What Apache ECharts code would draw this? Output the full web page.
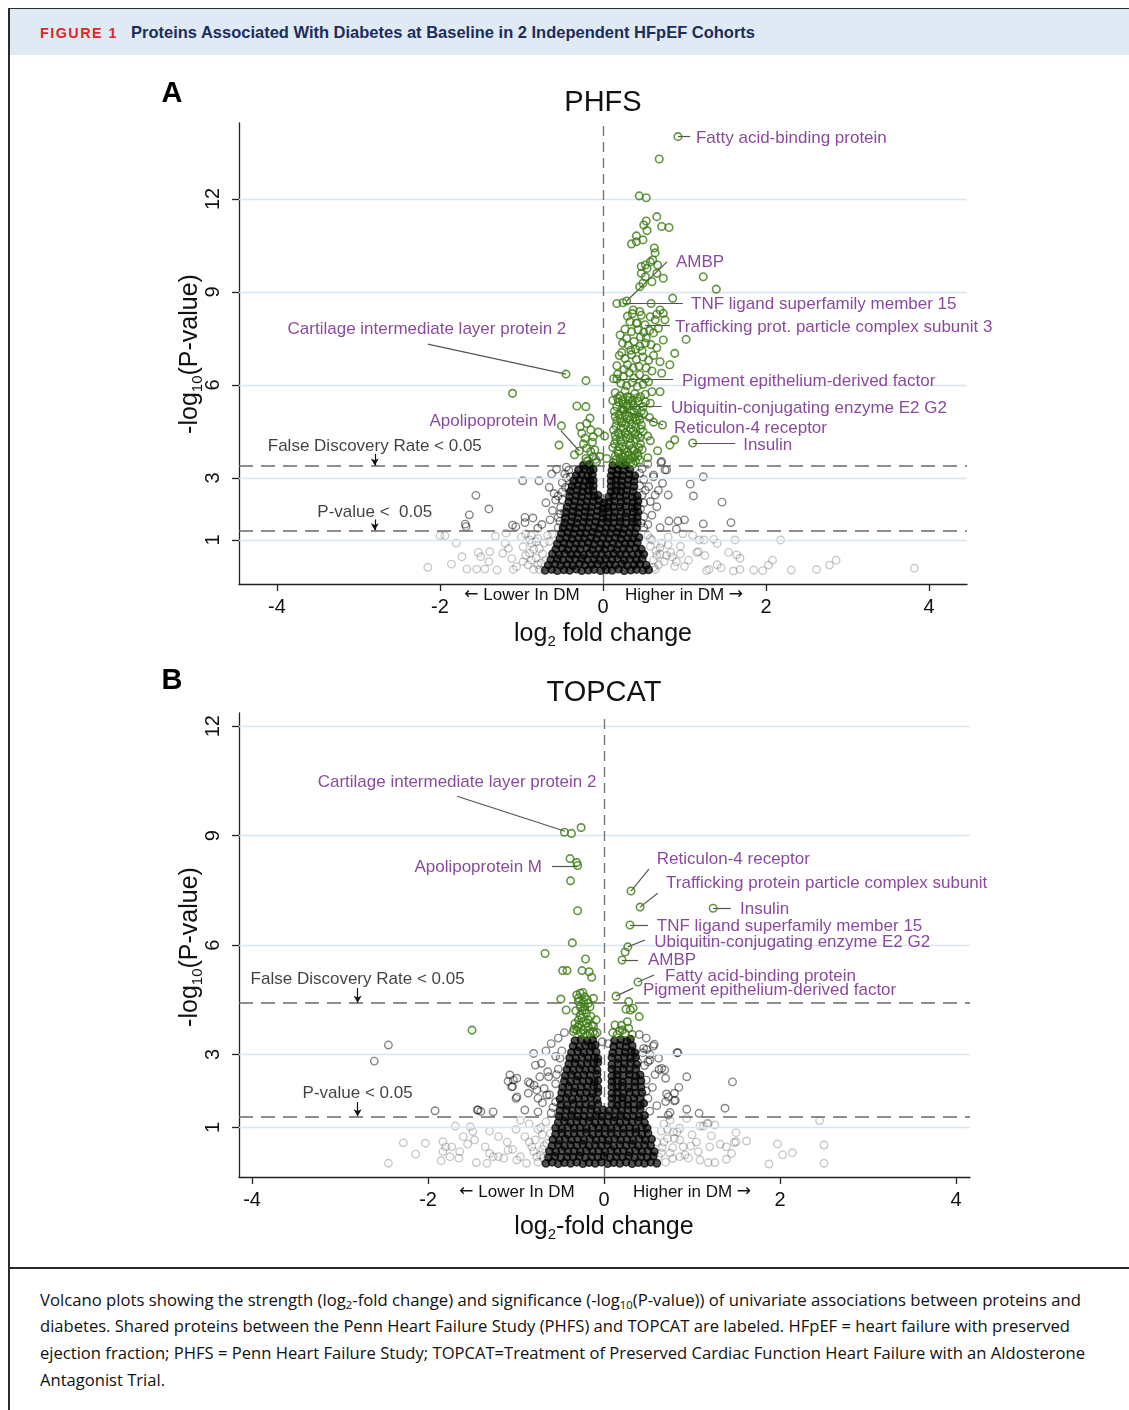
<!DOCTYPE html>
<html><head><meta charset="utf-8">
<script src="https://cdn.jsdelivr.net/npm/echarts@6/dist/echarts.min.js"></script>
<style>
html,body{margin:0;padding:0;background:#fff;width:1129px;height:1410px;overflow:hidden;}
#chart{position:absolute;left:0;top:0;width:1129px;height:1410px;}
.abs{position:absolute;}
.fit{white-space:nowrap;transform-origin:0 50%;display:inline-block;position:absolute;}
.cap{font-family:"Open Sans","Noto Sans",sans-serif;font-size:17px;line-height:24px;color:#111;}
.cap sub{font-size:11.5px;line-height:0;vertical-align:-3px;}
</style></head><body>
<div class="abs" style="left:9px;top:9px;width:1120px;height:46px;background:#dfeaf5"></div>
<div class="abs" style="left:8px;top:8px;width:1121px;height:1.3px;background:#2b2b2b"></div>
<div class="abs" style="left:8px;top:8px;width:1.5px;height:1402px;background:#2b2b2b"></div>
<div class="abs" style="left:8px;top:1267px;width:1121px;height:1.5px;background:#2b2b2b"></div>
<div class="fit" data-w="78" style="left:40px;top:23px;font:bold 15px 'Liberation Sans',Arial,sans-serif;line-height:20px;letter-spacing:1.5px;color:#e3262c">FIGURE 1</div>
<div class="fit" data-w="624" style="left:131px;top:23px;font:bold 17px 'Liberation Sans',Arial,sans-serif;line-height:20px;color:#1c2d5c">Proteins Associated With Diabetes at Baseline in 2 Independent HFpEF Cohorts</div>
<div class="fit cap" data-w="1041" style="left:40px;top:1288px">Volcano plots showing the strength (log<sub>2</sub>-fold change) and significance (-log<sub>10</sub>(P-value)) of univariate associations between proteins and</div>
<div class="fit cap" data-w="1030" style="left:40px;top:1314px">diabetes. Shared proteins between the Penn Heart Failure Study (PHFS) and TOPCAT are labeled. HFpEF = heart failure with preserved</div>
<div class="fit cap" data-w="1045" style="left:40px;top:1341px">ejection fraction; PHFS = Penn Heart Failure Study; TOPCAT=Treatment of Preserved Cardiac Function Heart Failure with an Aldosterone</div>
<div class="fit cap" data-w="125" style="left:40px;top:1368px">Antagonist Trial.</div>
<div id="chart"></div>
<script>
// ---------------- DATA ----------------
const xTicks = [-4, -2, 0, 2, 4];
const yTicks = [1, 3, 6, 9, 12];
const phfsFdr = 3.39, topcatFdr = 4.41, pLine = 1.3;

// PHFS significant (FDR) proteins
const phfsGreen = [
[-0.454,6.35],[-0.209,6.14],[-1.11,5.73],[-0.32,5.32],[-0.21,5.3],[-0.51,4.68],[-0.28,4.66],[-0.16,4.93],[-0.2,4.76],[-0.54,4.06],
[-0.26,4.44],[-0.22,4.28],[-0.12,4.33],[-0.15,4.55],[0.02,4.35],[-0.29,3.87],[-0.2,3.96],[-0.15,3.85],[-0.1,3.9],[-0.04,3.69],
[0.045,3.63],[-0.21,3.63],[-0.12,3.69],[-0.35,3.75],[-0.18,3.55],[-0.08,3.52],[-0.24,4.1],[-0.13,4.15],[-0.06,4.48],
[0.92,14.01],[0.69,13.29],[0.445,12.1],[0.53,12.04],[0.66,11.43],[0.53,11.29],[0.5,11.16],[0.54,10.98],[0.72,11.11],[0.81,11.08],
[0.41,10.81],[0.35,10.55],[0.41,10.62],[0.49,10.68],[0.63,10.42],[0.64,10.26],[0.61,10.03],[0.58,9.97],[0.52,9.87],[0.47,9.82],
[0.54,9.76],[0.67,9.87],[0.47,9.6],[0.52,9.49],[0.66,9.6],[0.74,9.44],[0.49,9.28],[0.6,9.33],[0.45,9.17],[1.23,9.49],[1.39,9.09],
[0.17,8.63],[0.29,8.71],[0.245,8.65],[0.59,8.63],[0.855,8.8],[0.37,8.42],[0.45,8.37],[0.7,8.42],[0.74,8.31],[0.76,8.1],[0.33,8.04],
[0.41,7.99],[0.515,7.94],[0.64,8.1],[0.21,7.61],[1.02,7.47],[0.68,7.83],[0.74,7.45],[0.88,7.02],[0.82,6.65],[0.7,6.75],[0.7,5.78],
[0.6,5.78],[0.72,6.38],[0.52,5.46],[0.58,5.41],[0.73,4.71],[0.88,4.23],[0.82,4.06],[0.67,3.88],[1.1,4.13],[0.17,6.19],[0.31,5.32],[0.245,5.19],
[0.3,8.22],[0.47,8.25],[0.58,8.2],[0.66,8.28],
[0.27,7.8],[0.35,7.72],[0.43,7.78],[0.5,7.7],[0.57,7.76],[0.62,7.68],[0.46,7.55],
[0.24,7.35],[0.31,7.28],[0.38,7.4],[0.45,7.25],[0.52,7.35],[0.59,7.3],[0.66,7.2],[0.34,7.12],[0.48,7.1],
[0.2,6.95],[0.27,6.85],[0.35,6.98],[0.41,6.82],[0.49,6.9],[0.56,6.8],[0.62,6.95],[0.3,6.65],[0.44,6.6],[0.53,6.55],[0.6,6.45],
[0.18,6.35],[0.25,6.28],[0.32,6.4],[0.38,6.22],[0.45,6.33],[0.52,6.2],[0.22,6.05],[0.29,5.98],[0.36,6.08],[0.42,5.95],[0.49,6.02],[0.56,6.1],
[0.15,5.75],[0.21,5.65],[0.27,5.8],[0.33,5.6],[0.39,5.72],[0.46,5.62],[0.52,5.7],[0.19,5.45],[0.25,5.38],[0.31,5.5],[0.37,5.35],[0.43,5.48],[0.49,5.3],
[0.14,5.15],[0.2,5.05],[0.26,5.2],[0.32,5.0],[0.38,5.12],[0.44,4.98],[0.5,5.08],[0.57,4.95],[0.17,4.85],[0.23,4.78],[0.29,4.9],[0.35,4.72],[0.41,4.85],[0.47,4.7],[0.62,4.8],
[0.13,4.55],[0.19,4.45],[0.25,4.6],[0.31,4.4],[0.37,4.52],[0.43,4.38],[0.49,4.5],[0.55,4.35],[0.16,4.25],[0.22,4.18],[0.28,4.3],[0.34,4.12],[0.4,4.25],[0.46,4.1],[0.58,4.2],
[0.12,3.98],[0.18,3.88],[0.24,4.02],[0.3,3.85],[0.36,3.95],[0.42,3.82],[0.48,3.92],[0.15,3.7],[0.21,3.62],[0.27,3.75],[0.33,3.6],[0.39,3.72],[0.45,3.58],[0.13,3.5],[0.25,3.48],[0.37,3.45],[0.55,3.65],
[0.17,6.62],[0.13,6.2],[0.12,5.5],
[0.16,3.6],[0.22,3.52],[0.28,3.58],[0.34,3.5],[0.4,3.55],[0.19,3.78],[0.25,3.68],[0.31,3.72],[0.37,3.65],[0.43,3.7],
[0.14,4.1],[0.2,4.0],[0.26,3.92],[0.32,4.05],[0.38,3.88],[0.44,3.98],[0.15,4.38],[0.21,4.32],[0.27,4.45],[0.33,4.28],[0.39,4.4],[0.45,4.3],
[0.16,4.68],[0.22,4.62],[0.28,4.72],[0.34,4.58],[0.4,4.65],[0.46,4.58],[0.15,4.98],[0.21,4.92],[0.27,5.02],[0.33,4.88],[0.39,4.95],[0.45,4.88],
[0.17,5.3],[0.23,5.22],[0.29,5.32],[0.35,5.18],[0.41,5.25],[0.47,5.15],[0.18,5.58],[0.24,5.52],[0.3,5.62],[0.36,5.5],[0.42,5.58],
[0.26,6.5],[0.37,6.55],[0.23,7.05],[0.4,7.15],[0.29,7.5],[0.53,7.52],[0.36,8.3],[0.42,8.0]
];

// PHFS non-significant proteins, dense centre of the volcano
const phfsCore = [
[-0.71,0.02],[-0.63,0.05],[-0.56,0.01],[-0.48,0.04],[-0.41,0.02],[-0.33,0.06],[-0.26,0.01],[-0.18,0.03],[-0.11,0.05],[-0.03,0.01],[0.04,0.04],[0.11,0.02],[0.19,0.06],[0.26,0.01],[0.34,0.03],[0.41,0.05],[0.49,0.02],[0.56,0.04],
[-0.67,0.19],[-0.59,0.22],[-0.52,0.18],[-0.44,0.21],[-0.37,0.17],[-0.29,0.23],[-0.22,0.19],[-0.14,0.2],[-0.07,0.22],[0.01,0.18],[0.08,0.21],[0.15,0.19],[0.23,0.23],[0.3,0.18],[0.38,0.2],[0.45,0.22],[0.53,0.19],
[-0.64,0.36],[-0.56,0.39],[-0.49,0.35],[-0.41,0.38],[-0.34,0.37],[-0.26,0.4],[-0.19,0.36],[-0.11,0.38],[-0.04,0.35],[0.03,0.39],[0.11,0.37],[0.18,0.4],[0.26,0.35],[0.33,0.38],[0.41,0.36],[0.48,0.39],
[-0.62,0.55],[-0.54,0.52],[-0.47,0.56],[-0.39,0.53],[-0.32,0.55],[-0.24,0.51],[-0.17,0.56],[-0.09,0.53],[-0.02,0.55],[0.06,0.52],[0.13,0.56],[0.21,0.53],[0.28,0.55],[0.36,0.52],[0.43,0.56],[0.5,0.54],
[-0.58,0.7],[-0.5,0.73],[-0.43,0.69],[-0.35,0.72],[-0.28,0.7],[-0.2,0.74],[-0.13,0.69],[-0.05,0.72],[0.02,0.7],[0.1,0.73],[0.17,0.69],[0.25,0.72],[0.32,0.71],[0.4,0.74],[0.47,0.7],
[-0.56,0.87],[-0.48,0.9],[-0.41,0.86],[-0.33,0.89],[-0.26,0.88],[-0.18,0.91],[-0.11,0.86],[-0.03,0.89],[0.04,0.87],[0.12,0.9],[0.19,0.86],[0.27,0.89],[0.34,0.88],[0.42,0.91],
[-0.53,1.04],[-0.45,1.07],[-0.38,1.03],[-0.3,1.06],[-0.23,1.05],[-0.15,1.08],[-0.08,1.03],[0,1.06],[0.07,1.04],[0.15,1.07],[0.22,1.03],[0.3,1.06],[0.37,1.05],[0.44,1.08],
[-0.51,1.21],[-0.43,1.24],[-0.36,1.2],[-0.28,1.23],[-0.21,1.22],[-0.13,1.25],[-0.06,1.2],[0.02,1.23],[0.09,1.21],[0.17,1.24],[0.24,1.2],[0.32,1.23],[0.39,1.22],
[-0.49,1.38],[-0.41,1.41],[-0.34,1.37],[-0.26,1.4],[-0.19,1.39],[-0.11,1.42],[-0.04,1.37],[0.04,1.4],[0.11,1.38],[0.19,1.41],[0.26,1.37],[0.34,1.4],[0.41,1.39],
[-0.47,1.55],[-0.39,1.58],[-0.32,1.54],[-0.24,1.57],[-0.17,1.56],[-0.09,1.59],[-0.02,1.54],[0.06,1.57],[0.13,1.55],[0.21,1.58],[0.28,1.54],[0.36,1.57],[0.42,1.56],
[-0.46,1.72],[-0.38,1.75],[-0.31,1.71],[-0.23,1.74],[-0.16,1.73],[-0.08,1.76],[0.0,1.71],[0.06,1.71],[0.13,1.74],[0.21,1.72],[0.28,1.75],[0.36,1.71],[0.42,1.74],
[-0.45,1.89],[-0.37,1.92],[-0.3,1.88],[-0.22,1.91],[-0.15,1.9],[-0.07,1.93],[0.0,1.88],[0.07,1.91],[0.14,1.89],[0.22,1.92],[0.29,1.88],[0.37,1.91],[0.43,1.9],
[-0.44,2.06],[-0.36,2.09],[-0.29,2.05],[-0.21,2.08],[-0.14,2.07],[-0.06,2.1],[0.0,2.02],[0.06,2.05],[0.13,2.08],[0.21,2.06],[0.28,2.09],[0.36,2.05],[0.42,2.08],
[-0.42,2.23],[-0.35,2.26],[-0.27,2.22],[-0.2,2.25],[-0.12,2.24],[-0.05,2.27],[0.01,2.19],[0.07,2.22],[0.14,2.25],[0.22,2.23],[0.29,2.26],[0.37,2.22],[0.43,2.25],
[-0.41,2.4],[-0.33,2.43],[-0.26,2.39],[-0.18,2.42],[-0.11,2.41],[-0.06,2.44],[0.07,2.39],[0.13,2.42],[0.21,2.4],[0.28,2.43],[0.36,2.39],[0.42,2.42],
[-0.4,2.57],[-0.32,2.6],[-0.25,2.56],[-0.18,2.59],[-0.12,2.58],[0.1,2.56],[0.16,2.59],[0.22,2.57],[0.29,2.6],[0.37,2.56],
[-0.38,2.74],[-0.31,2.77],[-0.24,2.73],[-0.17,2.76],[-0.12,2.75],[0.1,2.73],[0.16,2.76],[0.23,2.74],[0.3,2.77],[0.38,2.73],
[-0.36,2.91],[-0.29,2.94],[-0.22,2.9],[-0.16,2.93],[-0.12,2.92],[0.1,2.9],[0.16,2.93],[0.23,2.91],[0.31,2.94],[0.38,2.9],
[-0.33,3.08],[-0.26,3.11],[-0.19,3.07],[-0.13,3.1],[0.1,3.07],[0.17,3.1],[0.24,3.08],[0.32,3.11],[0.39,3.07],
[-0.3,3.25],[-0.23,3.28],[-0.16,3.24],[-0.12,3.27],[0.11,3.24],[0.18,3.27],[0.25,3.25],[0.33,3.28],
[-0.24,3.41],[-0.17,3.44],[0.12,3.4],[0.2,3.43],[0.28,3.41]
];

// PHFS non-significant proteins, scattered outside the centre
const phfsGray = [
[-0.985,2.91],[-0.785,2.91],[-0.63,3.13],[-0.47,3.13],[-0.4,3.04],[-1.56,2.44],[-1.4,2.0],[-1.64,1.81],[-1.69,1.51],[-1.68,1.43],
[-1.11,1.48],[-0.957,1.73],[-0.86,1.71],[-0.957,1.56],[-1.07,1.43],[-0.65,1.65],[-0.55,1.73],[-0.6,2.5],[-0.55,2.42],[-0.58,2.29],
[-0.42,2.69],[-0.52,2.05],[-0.62,1.95],[-0.5,2.85],[-0.7,2.2],[-0.48,1.45],[-0.75,1.5],[-0.8,1.38],[-0.66,2.7],[-0.57,3.28],
[-0.45,3.35],[-0.2,3.55],[-0.09,3.6],[-0.53,1.6],[-0.5,2.55],[-0.47,1.9],[-0.55,1.4],[-0.45,3.0],
[-0.5,2.3],[-0.46,2.7],[-0.42,3.25],[-0.52,1.85],
[-2.0,1.14],[-1.94,1.14],[-1.19,1.22],[-1.86,0.22],[-1.73,0.46],[-1.67,0.06],[-1.55,0.06],[-1.45,0.06],[-1.53,0.6],[-1.39,0.62],
[-1.5,0.46],[-1.4,0.3],[-1.3,0.03],[-1.2,0.89],[-1.16,0.73],[-1.23,0.57],[-1.06,0.14],[-0.98,0.3],[-0.98,0.78],[-0.9,0.57],
[-0.875,0.89],[-1.12,0.4],[-1.0,1.1],[-0.92,0.2],[-0.85,0.05],[-0.82,0.42],[-0.78,0.72],[-0.8,1.05],[-0.76,0.25],[-1.1,0.05],
[-2.15,0.12],[-1.8,0.9],[-1.32,1.12],[-0.95,1.2],[-0.88,1.15],[-0.74,0.55],[-0.72,0.9],[-0.68,1.15],[-0.78,0.05],[-0.7,0.35],
[-0.95,0.5],[-0.88,0.35],[-0.85,0.7],[-0.82,0.95],[-0.9,1.0],[-0.8,0.2],[-0.66,0.95],[-0.62,1.2],
[1.23,3.04],[1.07,2.8],[1.11,2.42],[1.46,2.22],[1.57,1.56],[1.23,1.52],[0.81,1.61],[0.92,1.61],[0.9,1.35],[0.73,2.83],
[0.8,2.45],[0.66,2.07],[0.58,2.24],[0.76,3.26],[0.71,3.5],[0.55,3.45],[0.62,3.1],[0.5,2.95],[0.52,2.6],[0.6,1.8],
[0.55,1.5],[0.7,1.4],[0.48,3.3],[0.68,2.6],[1.0,1.65],[0.5,2.2],[0.72,3.53],[0.78,3.26],[0.62,3.04],[0.56,2.72],[0.64,2.45],
[0.5,1.75],[0.48,2.45],[0.5,1.4],[0.45,3.15],[0.46,2.0],[0.45,2.75],[0.47,1.55],
[3.82,0.09],[2.86,0.35],[2.78,0.19],[2.62,0.05],[2.31,0.03],[2.18,1.0],[2.08,0.35],[2.03,0.19],[1.96,0.01],[1.85,0.03],
[1.68,0.05],[1.6,0.0],[1.68,0.41],[1.64,0.52],[1.54,0.6],[1.62,1.0],[1.36,1.02],[1.24,1.0],[1.18,1.0],[1.4,0.2],
[1.3,0.05],[1.15,0.6],[1.05,0.35],[0.95,0.8],[0.88,0.15],[0.8,1.1],[0.78,0.5],[0.72,0.9],[0.68,0.2],[0.65,0.65],
[1.1,1.15],[0.98,1.2],[1.25,0.5],[0.85,0.45],[1.45,0.1],[0.6,1.0],[0.62,0.35],[1.17,0.62],[1.4,0.89],[1.27,0.01],
[0.64,0.05],[0.58,0.8],[0.55,1.15],[0.7,0.55],[0.62,0.12],[0.66,0.5],[0.7,0.75],[0.75,0.3],[0.8,0.85],[0.83,0.6],
[0.58,1.05],[0.9,0.3],[0.95,0.55],[1.0,0.15]
];

// TOPCAT significant (FDR) proteins
const topcatGreen = [
[-0.45,9.09],[-0.37,9.06],[-0.26,9.22],[-0.386,8.37],[-0.31,8.26],[-0.3,8.18],[-0.38,7.76],[-0.3,6.94],[-0.36,6.06],[-0.67,5.77],
[-0.21,5.62],[-0.47,5.3],[-0.42,5.3],[-0.25,5.3],[-0.17,5.27],[-0.14,5.12],[-0.49,4.52],[-0.43,4.22],[-0.31,4.63],[-0.27,4.68],
[-0.22,4.58],[-0.235,4.45],[-0.29,4.45],[-0.27,4.31],[-0.22,4.31],[-0.16,4.31],[-0.12,4.54],[-0.2,4.13],[-0.27,4.08],[-0.29,3.95],
[-0.33,3.85],[-0.235,3.9],[-0.18,3.95],[-0.14,3.81],[-0.09,3.95],[-0.35,3.63],[-0.31,3.67],[-0.235,3.67],[-0.18,3.76],[-0.12,3.63],
[-0.2,3.53],[-1.5,3.67],[-0.25,4.2],[-0.18,4.4],[-0.3,3.75],[-0.22,3.58],
[-0.26,3.6],[-0.16,3.58],[-0.28,3.82],[-0.2,3.86],[-0.12,3.78],[-0.25,4.0],[-0.15,4.05],[-0.32,4.2],[-0.22,4.22],[-0.29,4.55],
[-0.19,4.5],[-0.24,4.7],[-0.34,3.7],[-0.08,3.6],
[0.307,7.48],[0.41,7.04],[1.24,7.01],[0.295,6.55],[0.27,5.95],[0.24,5.81],[0.205,5.59],[0.386,4.99],[0.136,4.6],[0.28,4.45],
[0.25,4.24],[0.33,4.27],[0.4,4.04],[0.265,3.9],[0.125,3.81],[0.21,3.67],[0.28,3.72],[0.3,4.22],[0.2,3.8],[0.15,3.55],
[0.1,3.6],[0.24,3.58],[0.32,3.55],[0.18,3.65]
];

// TOPCAT non-significant proteins, dense centre of the volcano
const topcatCore = [
[-0.66,0.02],[-0.59,0.05],[-0.52,0.01],[-0.45,0.04],[-0.38,0.02],[-0.31,0.05],[-0.24,0.01],[-0.17,0.04],[-0.1,0.02],[-0.03,0.05],[0.04,0.01],[0.11,0.04],[0.18,0.02],[0.25,0.05],[0.32,0.01],[0.39,0.04],[0.46,0.02],[0.53,0.05],[0.6,0.02],
[-0.63,0.18],[-0.56,0.21],[-0.49,0.17],[-0.42,0.2],[-0.35,0.19],[-0.28,0.22],[-0.21,0.17],[-0.14,0.2],[-0.07,0.18],[0,0.21],[0.07,0.17],[0.14,0.2],[0.21,0.19],[0.28,0.22],[0.35,0.17],[0.42,0.2],[0.49,0.18],[0.56,0.21],
[-0.62,0.35],[-0.55,0.33],[-0.48,0.37],[-0.41,0.34],[-0.34,0.36],[-0.27,0.33],[-0.2,0.37],[-0.13,0.34],[-0.06,0.36],[0.01,0.33],[0.08,0.37],[0.15,0.34],[0.22,0.36],[0.29,0.33],[0.36,0.37],[0.43,0.34],[0.5,0.36],[0.57,0.34],
[-0.59,0.5],[-0.52,0.53],[-0.45,0.49],[-0.38,0.52],[-0.31,0.51],[-0.24,0.54],[-0.17,0.49],[-0.1,0.52],[-0.03,0.5],[0.04,0.53],[0.11,0.49],[0.18,0.52],[0.25,0.51],[0.32,0.54],[0.39,0.49],[0.46,0.52],[0.53,0.5],
[-0.58,0.67],[-0.51,0.65],[-0.44,0.69],[-0.37,0.66],[-0.3,0.68],[-0.23,0.65],[-0.16,0.69],[-0.09,0.66],[-0.02,0.68],[0.05,0.65],[0.12,0.69],[0.19,0.66],[0.26,0.68],[0.33,0.65],[0.4,0.69],[0.47,0.66],[0.54,0.68],
[-0.55,0.82],[-0.48,0.85],[-0.41,0.81],[-0.34,0.84],[-0.27,0.83],[-0.2,0.86],[-0.13,0.81],[-0.06,0.84],[0.01,0.82],[0.08,0.85],[0.15,0.81],[0.22,0.84],[0.29,0.83],[0.36,0.86],[0.43,0.81],[0.5,0.84],
[-0.55,0.99],[-0.48,0.97],[-0.41,1.01],[-0.34,0.98],[-0.27,1.0],[-0.2,0.97],[-0.13,1.01],[-0.06,0.98],[0.01,1.0],[0.08,0.97],[0.15,1.01],[0.22,0.98],[0.29,1.0],[0.36,0.97],[0.43,1.01],[0.49,0.98],
[-0.52,1.14],[-0.45,1.17],[-0.38,1.13],[-0.31,1.16],[-0.24,1.15],[-0.17,1.18],[-0.1,1.13],[-0.03,1.16],[0.04,1.14],[0.11,1.17],[0.18,1.13],[0.25,1.16],[0.32,1.15],[0.39,1.18],[0.46,1.13],
[-0.51,1.31],[-0.44,1.29],[-0.37,1.33],[-0.3,1.3],[-0.23,1.32],[-0.16,1.29],[-0.09,1.33],[-0.02,1.3],[0.05,1.32],[0.12,1.29],[0.19,1.33],[0.26,1.3],[0.33,1.32],[0.4,1.29],[0.46,1.33],
[-0.5,1.46],[-0.43,1.49],[-0.36,1.45],[-0.29,1.48],[-0.22,1.47],[-0.15,1.5],[-0.08,1.45],[-0.01,1.48],[0.06,1.46],[0.13,1.49],[0.2,1.45],[0.27,1.48],[0.34,1.47],[0.41,1.5],
[-0.49,1.63],[-0.42,1.61],[-0.35,1.65],[-0.28,1.62],[-0.21,1.64],[-0.14,1.61],[-0.07,1.65],[0.09,1.64],[0.15,1.61],[0.21,1.65],[0.27,1.62],[0.34,1.64],[0.41,1.61],[0.45,1.66],
[-0.5,1.78],[-0.43,1.81],[-0.36,1.77],[-0.29,1.8],[-0.22,1.79],[-0.15,1.82],[-0.08,1.77],[0.09,1.8],[0.15,1.78],[0.21,1.81],[0.27,1.77],[0.34,1.8],[0.41,1.79],
[-0.48,1.95],[-0.41,1.93],[-0.34,1.97],[-0.27,1.94],[-0.2,1.96],[-0.13,1.93],[-0.07,1.97],[0.09,1.94],[0.15,1.96],[0.22,1.93],[0.29,1.97],[0.36,1.94],[0.43,1.96],
[-0.47,2.1],[-0.4,2.13],[-0.33,2.09],[-0.26,2.12],[-0.19,2.11],[-0.12,2.14],[-0.07,2.09],[0.09,2.12],[0.15,2.1],[0.21,2.13],[0.28,2.09],[0.35,2.12],[0.42,2.11],
[-0.45,2.27],[-0.38,2.25],[-0.31,2.29],[-0.24,2.26],[-0.17,2.28],[-0.11,2.25],[-0.07,2.29],[0.09,2.26],[0.15,2.28],[0.21,2.25],[0.28,2.29],[0.35,2.26],[0.42,2.28],
[-0.44,2.42],[-0.37,2.45],[-0.3,2.41],[-0.23,2.44],[-0.16,2.43],[-0.08,2.46],[0.09,2.41],[0.15,2.44],[0.22,2.42],[0.29,2.45],[0.36,2.41],[0.41,2.44],
[-0.42,2.59],[-0.35,2.57],[-0.28,2.61],[-0.21,2.58],[-0.14,2.6],[-0.08,2.57],[0.09,2.6],[0.15,2.57],[0.22,2.61],[0.29,2.58],[0.36,2.6],
[-0.4,2.74],[-0.33,2.77],[-0.26,2.73],[-0.19,2.76],[-0.12,2.75],[-0.07,2.78],[0.09,2.73],[0.16,2.76],[0.23,2.74],[0.3,2.77],[0.37,2.73],
[-0.39,2.91],[-0.32,2.89],[-0.25,2.93],[-0.18,2.9],[-0.11,2.92],[-0.07,2.89],[0.09,2.92],[0.16,2.89],[0.23,2.93],[0.3,2.9],[0.36,2.92],
[-0.37,3.06],[-0.3,3.09],[-0.23,3.05],[-0.16,3.08],[-0.09,3.07],[0.1,3.05],[0.17,3.08],[0.24,3.06],[0.31,3.09],[0.35,3.05],
[-0.35,3.23],[-0.28,3.21],[-0.21,3.25],[-0.14,3.22],[-0.1,3.26],[0.11,3.22],[0.18,3.25],[0.25,3.21],[0.32,3.24],
[-0.33,3.38],[-0.26,3.41],[-0.19,3.37],[-0.13,3.4],[0.12,3.38],[0.19,3.41],[0.26,3.37],[0.3,3.42]
];

// TOPCAT non-significant proteins, scattered outside the centre
const topcatGray = [
[-2.45,3.26],[-2.61,2.82],[-1.92,1.46],[-1.44,1.48],[-1.4,1.44],[-1.26,1.43],[-1.09,2.27],[-1.03,2.3],[-1.04,2.12],[-1.0,1.8],
[-0.8,3.03],[-0.78,2.71],[-0.71,2.76],[-0.64,2.53],[-0.73,2.39],[-0.63,2.39],[-0.86,2.25],[-0.795,2.16],[-0.68,2.07],[-0.86,1.94],
[-0.75,1.8],[-0.7,1.68],[-0.9,1.48],[-0.75,1.43],[-0.6,3.3],[-0.55,2.95],[-0.58,1.55],[-0.62,1.9],[-0.55,2.2],[-0.66,3.1],
[-0.52,3.45],[-0.45,3.6],[-0.1,3.55],[-0.02,3.35],[-0.6,1.4],[-1.07,2.44],[-0.99,2.35],[-1.05,2.12],[-0.84,2.21],[-0.765,2.03],
[-0.65,1.89],[-0.99,1.84],[-1.43,1.48],[-0.55,1.7],[-0.52,2.6],[-0.48,3.1],[-0.54,2.45],[-0.5,2.9],
[0.57,3.28],[0.485,3.14],[0.83,3.05],[0.38,2.8],[0.5,2.8],[0.52,2.85],[0.625,2.59],[0.69,2.58],[0.7,2.35],[0.94,2.39],
[1.46,2.25],[0.71,1.92],[0.7,1.71],[0.8,1.73],[0.94,1.5],[1.08,1.39],[0.75,1.41],[0.73,1.34],[1.375,1.53],[0.55,2.1],
[0.6,1.6],[0.52,1.45],[0.58,2.45],[0.48,3.45],[0.4,3.55],[0.62,2.9],[0.85,2.1],[0.05,3.3],[0.52,3.0],[0.45,3.17],
[0.56,3.23],[0.655,2.62],[0.84,3.05],[0.8,1.94],[0.81,1.75],[0.73,1.84],[0.5,1.8],[0.48,2.3],[0.48,2.0],[0.46,2.7],[0.44,3.05],
[2.45,1.19],[2.5,0.52],[2.5,0.02],[2.14,0.31],[2.03,0.25],[1.97,0.55],[1.875,0.0],[1.62,0.63],[1.5,0.86],[1.5,0.61],
[1.48,0.59],[1.39,0.13],[1.45,0.29],[1.39,0.47],[1.32,0.54],[1.22,0.77],[1.2,0.47],[1.185,1.11],[1.13,1.04],[1.09,1.04],
[1.26,0.04],[1.185,0.04],[1.09,0.11],[1.07,0.34],[0.985,0.49],[0.9,0.47],[0.86,0.2],[0.92,0.25],[0.96,0.16],[0.86,0.66],
[0.83,0.88],[0.79,0.88],[0.94,1.25],[0.86,0.98],[0.75,0.3],[0.72,0.7],[0.68,1.1],[0.66,0.45],[0.7,0.05],[0.78,0.15],
[1.0,0.8],[1.05,0.6],[0.65,0.9],[0.75,1.2],[1.26,1.07],[1.17,1.11],[0.62,0.2],[0.6,0.6],
[0.65,0.3],[0.68,0.6],[0.72,0.95],[0.78,0.45],[0.8,0.7],
[-2.45,0.02],[-2.28,0.58],[-2.03,0.57],[-2.14,0.27],[-1.85,0.09],[-1.83,0.61],[-1.8,0.47],[-1.83,0.34],[-1.73,0.47],[-1.69,1.04],
[-1.65,0.16],[-1.64,0.34],[-1.55,0.55],[-1.52,1.02],[-1.49,0.89],[-1.45,0.04],[-1.47,0.66],[-1.33,0.02],[-1.35,0.47],[-1.3,0.29],
[-1.26,0.2],[-1.2,0.2],[-1.14,0.16],[-1.09,0.38],[-1.04,0.4],[-0.99,0.11],[-0.95,0.2],[-0.88,0.02],[-0.82,0.47],[-0.78,0.66],
[-0.765,0.2],[-0.69,0.16],[-0.65,0.57],[-0.61,0.84],[-1.2,0.75],[-1.0,0.95],[-0.9,0.75],[-0.85,1.1],[-0.72,1.0],[-0.7,0.4],
[-0.75,0.05],[-1.1,0.6],[-1.3,0.9],[-0.95,1.2],[-1.6,0.75],[-1.75,0.2],[-0.66,1.15],[-0.72,0.25],
[-0.7,0.8],[-0.68,0.5],[-0.75,0.95],[-0.8,0.35],[-0.85,0.6]
];

// Shared labelled proteins
const phfsLabelNames = ["Fatty acid-binding protein","AMBP","TNF ligand superfamily member 15","Trafficking prot. particle complex subunit 3","Pigment epithelium-derived factor","Ubiquitin-conjugating enzyme E2 G2","Reticulon-4 receptor","Insulin","Cartilage intermediate layer protein 2","Apolipoprotein M"];
const topcatLabelNames = ["Cartilage intermediate layer protein 2","Apolipoprotein M","Reticulon-4 receptor","Trafficking protein particle complex subunit","Insulin","TNF ligand superfamily member 15","Ubiquitin-conjugating enzyme E2 G2","AMBP","Fatty acid-binding protein","Pigment epithelium-derived factor"];

// annotation layout (data units): point x,y / leader end x,y / text x,y / align
const phfsLabelLayout = [
[0.92,14.01,1.07,14.01,1.14,13.97,'left'],
[0.29,8.71,0.785,9.97,0.896,9.97,'left'],
[0.245,8.65,0.98,8.65,1.08,8.61,'left'],
[0.515,7.94,0.82,7.94,0.883,7.87,'left'],
[0.17,6.19,0.86,6.19,0.97,6.13,'left'],
[0.31,5.32,0.72,5.32,0.834,5.26,'left'],
[0.245,5.19,0.736,4.71,0.87,4.61,'left'],
[1.1,4.13,1.62,4.13,1.72,4.06,'left'],
[-0.454,6.35,-2.15,7.32,-2.16,7.81,'center'],
[-0.29,3.87,-0.515,4.52,-0.564,4.84,'right']
];
const topcatLabelLayout = [
[-0.443,9.12,-1.67,10.08,-1.67,10.47,'center'],
[-0.307,8.16,-0.59,8.16,-0.705,8.14,'right'],
[0.307,7.48,0.51,8.08,0.6,8.36,'left'],
[0.41,7.04,0.61,7.42,0.705,7.7,'left'],
[1.24,7.01,1.44,7.01,1.545,6.99,'left'],
[0.295,6.55,0.5,6.55,0.6,6.52,'left'],
[0.27,5.95,0.466,6.14,0.57,6.08,'left'],
[0.205,5.59,0.386,5.59,0.5,5.59,'left'],
[0.386,4.99,0.568,5.18,0.693,5.15,'left'],
[0.136,4.6,0.33,4.82,0.443,4.77,'left']
];
// threshold captions: text, x, y, arrow from y, arrow to y
const phfsThreshNotes = [["False Discovery Rate < 0.05",-2.8,4.03,3.78,3.4],["P-value <  0.05",-2.8,1.9,1.66,1.31]];
const topcatThreshNotes = [["False Discovery Rate < 0.05",-2.8,5.07,4.82,4.42],["P-value < 0.05",-2.8,1.95,1.7,1.31]];

// ---------------- CHART ----------------
const FONT = "'Liberation Sans', Arial, sans-serif";
const GREEN = '#3c7b14';
const PURPLE = '#6c1d86';
const chart = echarts.init(document.getElementById('chart'), null, {renderer:'canvas', devicePixelRatio:1});

function axesFor(i, xr, yr) {
  const xa = {gridIndex:i, type:'value', min:xr[0], max:xr[1],
    axisLine:{onZero:false, lineStyle:{color:'#222', width:1.3}},
    axisTick:{customValues:xTicks, length:7, lineStyle:{color:'#222', width:1.3}},
    axisLabel:{customValues:xTicks, fontSize:20, color:'#111', fontFamily:FONT, margin:13},
    splitLine:{show:false}};
  const ya = {gridIndex:i, type:'value', min:yr[0], max:yr[1],
    axisLine:{show:true, onZero:false, lineStyle:{color:'#222', width:1.3}},
    axisTick:{show:true, customValues:yTicks, length:7, lineStyle:{color:'#222', width:1.3}},
    axisLabel:{customValues:yTicks, rotate:90, fontSize:20, color:'#111', fontFamily:FONT, margin:16},
    splitLine:{show:false}};
  return [xa, ya];
}

function seriesFor(i, green, core, gray, fdr, names, layout, notes) {
  const ring = (c, w) => ({color:'rgba(0,0,0,0)', borderColor:c, borderWidth:w});
  const base = {type:'scatter', xAxisIndex:i, yAxisIndex:i, symbol:'circle', symbolSize:7.5, silent:true, animation:false};
  return [
    Object.assign({}, base, {z:1, data:[[0,0]], symbolSize:0,
      markLine:{silent:true, symbol:['none','none'], label:{show:false}, animation:false,
        lineStyle:{color:'#dbe5ee', width:1.3, type:'solid'},
        data: yTicks.map(v => ({yAxis:v}))}}),
    Object.assign({}, base, {z:2, data:[[0,0]], symbolSize:0,
      markLine:{silent:true, symbol:['none','none'], label:{show:false}, animation:false,
        data:[
          {yAxis:fdr, lineStyle:{color:'#6a6a6a', width:1.7, type:[14,8]}},
          {yAxis:pLine, lineStyle:{color:'#6a6a6a', width:1.7, type:[14,8]}},
          {xAxis:0, lineStyle:{color:'#777', width:1.4, type:[10,6]}}
        ]}}),
    Object.assign({}, base, {z:3, data: gray.filter(p => p[1] < pLine), itemStyle: ring('rgba(0,0,0,0.27)', 1.4)}),
    Object.assign({}, base, {z:4, data: gray.filter(p => p[1] >= pLine), itemStyle: ring('rgba(0,0,0,0.6)', 1.4)}),
    Object.assign({}, base, {z:5, data: core, itemStyle:{color:'rgba(0,0,0,0.85)', borderColor:'rgba(0,0,0,0.9)', borderWidth:1.4}}),
    Object.assign({}, base, {z:6, data: green, itemStyle: ring(GREEN, 1.6)}),
    Object.assign({}, base, {z:10, symbolSize:0,
      data: names.map((n, k) => ({value:[layout[k][4], layout[k][5]], name:n, label:{align:layout[k][6]}})),
      label:{show:true, position:'inside', formatter:'{b}', color:PURPLE, fontFamily:FONT, fontSize:17, verticalAlign:'middle'},
      markLine:{silent:true, symbol:['none','none'], label:{show:false}, animation:false,
        lineStyle:{color:'#555', width:1.2, type:'solid'},
        data: layout.map(l => [{coord:[l[0], l[1]]}, {coord:[l[2], l[3]]}])}}),
    Object.assign({}, base, {z:10, symbolSize:0,
      data: notes.map(n => ({value:[n[1], n[2]], name:n[0]})),
      label:{show:true, position:'inside', formatter:'{b}', color:'#111', fontFamily:FONT, fontSize:17, align:'center', verticalAlign:'middle'},
      markLine:{silent:true, symbol:['none','arrow'], symbolSize:[6,7], label:{show:false}, animation:false,
        lineStyle:{color:'#111', width:1.2, type:'solid'},
        data: notes.map(n => [{coord:[n[1], n[3]]}, {coord:[n[1], n[4]]}])}})
  ];
}

const axA = axesFor(0, [-4.466, 4.466], [-0.42, 14.45]);
const axB = axesFor(1, [-4.148, 4.159], [-0.356, 12.36]);

function txt(x, y, text, size, opts) {
  return {type:'text', x:x, y:y, silent:true,
    style:Object.assign({text:text, fontSize:size, fontFamily:FONT, fill:'#111', align:'center', verticalAlign:'middle'}, opts || {})};
}
function dirText(x, y, parts) {
  return {type:'text', x:x, y:y, silent:true,
    style:{text:parts, fontFamily:FONT, fill:'#111', align:'center', verticalAlign:'middle',
      rich:{t:{fontSize:17, fontFamily:FONT, fill:'#111', lineHeight:20}, a:{fontSize:17, fontFamily:"'DejaVu Sans', sans-serif", fill:'#111', lineHeight:20}}}};
}
function richName(x, y, parts, rot) {
  return {type:'text', x:x, y:y, rotation:rot || 0, silent:true,
    style:{text:parts, fontFamily:FONT, fill:'#111', align:'center', verticalAlign:'middle',
      rich:{m:{fontSize:25, lineHeight:30, fontFamily:FONT, fill:'#111'}, s:{fontSize:15, lineHeight:15, verticalAlign:'bottom', fontFamily:FONT, fill:'#111'}}}};
}

chart.setOption({
  animation:false,
  grid:[{left:239, top:123, width:728, height:461}, {left:239, top:713, width:731, height:464}],
  xAxis:[axA[0], axB[0]],
  yAxis:[axA[1], axB[1]],
  series: seriesFor(0, phfsGreen, phfsCore, phfsGray, phfsFdr, phfsLabelNames, phfsLabelLayout, phfsThreshNotes)
    .concat(seriesFor(1, topcatGreen, topcatCore, topcatGray, topcatFdr, topcatLabelNames, topcatLabelLayout, topcatThreshNotes)),
  graphic:{elements:[
    txt(172, 94, 'A', 29, {fontWeight:'bold', fill:'#000'}),
    txt(603, 103, 'PHFS', 29),
    txt(172, 681, 'B', 29, {fontWeight:'bold', fill:'#000'}),
    txt(604, 693, 'TOPCAT', 29),
    dirText(522, 595, '{a|\u2190}{t| Lower In DM}'),
    dirText(684, 595, '{t|Higher in DM }{a|\u2192}'),
    dirText(517, 1192, '{a|\u2190}{t| Lower In DM}'),
    dirText(692, 1192, '{t|Higher in DM }{a|\u2192}'),
    richName(603, 634, '{m|log}{s|2}{m| fold change}', 0),
    richName(604, 1227, '{m|log}{s|2}{m|-fold change}', 0),
    richName(190, 354, '{m|-log}{s|10}{m|(P-value)}', Math.PI/2),
    richName(190, 947, '{m|-log}{s|10}{m|(P-value)}', Math.PI/2)
  ]}
});

document.querySelectorAll('.fit').forEach(el => {
  const w = +el.dataset.w; const a = el.getBoundingClientRect().width;
  if (a > 0) el.style.transform = 'scaleX(' + (w / a) + ')';
});
</script>
</body></html>
